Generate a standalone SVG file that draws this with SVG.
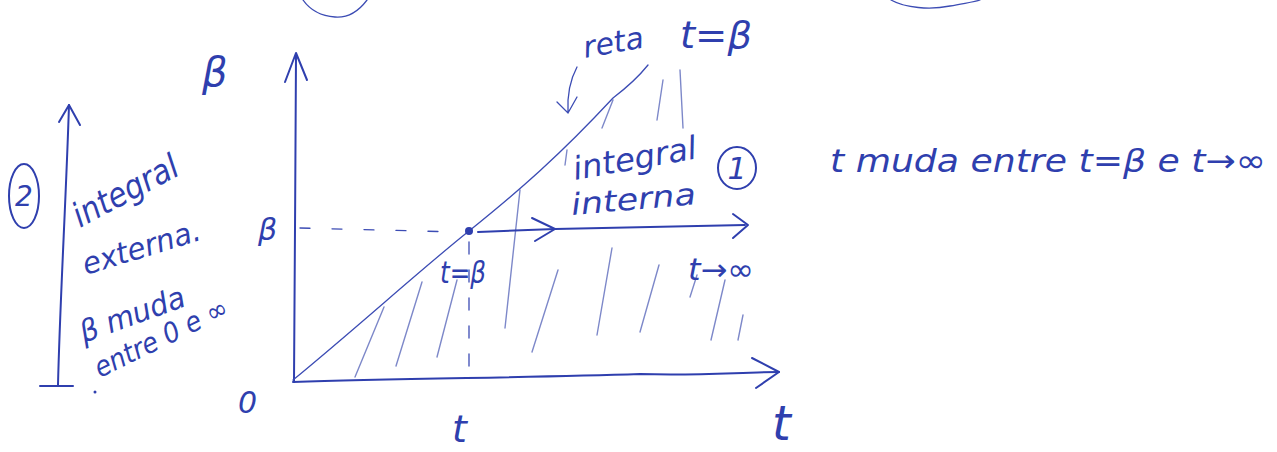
<svg xmlns="http://www.w3.org/2000/svg" width="1277" height="452" viewBox="0 0 1277 452">
<style>
.ink{fill:none;stroke:#2f3fae;stroke-width:2;stroke-linecap:round;stroke-linejoin:round}
.thin{fill:none;stroke:#3c4cb4;stroke-width:1.3;stroke-linecap:round}
.hatch{fill:none;stroke:#7d88c9;stroke-width:1.4;stroke-linecap:round}
.t{fill:#2f3fae;font-family:"DejaVu Sans",sans-serif;font-style:italic}
</style>
<rect width="1277" height="452" fill="#ffffff"/>
<g id="clouds">
<path class="thin" d="M303,0 C310,10 320,16 335,17 C348,18 358,12 367,0"/>
<path class="thin" d="M891,0 C905,8 930,10 950,6 C965,3 975,2 980,0"/>
</g>
<g id="hatching">
<path class="hatch" d="M355,377 L384,307"/>
<path class="hatch" d="M396,366 L422,282"/>
<path class="hatch" d="M437,357 L457,280"/>
<path class="hatch" d="M505,328 L520,190"/>
<path class="hatch" d="M532,352 L558,270"/>
<path class="hatch" d="M597,335 L612,248"/>
<path class="hatch" d="M640,332 L659,265"/>
<path class="hatch" d="M690,297 L697,275"/>
<path class="hatch" d="M711,340 L725,280"/>
<path class="hatch" d="M738,340 L743,315"/>
<path class="hatch" d="M602,128 L613,100"/>
<path class="hatch" d="M657,120 L663,80"/>
<path class="hatch" d="M683,128 L680,70"/>
<path class="hatch" d="M565,165 L567,150"/>
</g>
<g id="connectors">
<path class="ink" d="M294,382 C294,300 296,150 296,55"/>
<path class="ink" d="M285,82 L296,53 L307,80"/>
<path class="ink" d="M293,382 C400,378 520,378 640,374 C700,376 740,372 779,372"/>
<path class="ink" d="M752,358 L779,372 L756,388"/>
<path class="thin" d="M293,380 C360,325 420,270 469,231 C520,190 560,155 613,98 C630,85 640,75 648,65"/>
<path class="thin" stroke-dasharray="10 22" d="M300,228 L458,232"/>
<path class="thin" stroke-dasharray="12 16" d="M469,242 L469,382"/>
<circle cx="469" cy="231" r="4" fill="#2f3fae"/>
<path class="ink" d="M478,232 L555,229 L745,225"/>
<path class="ink" d="M532,218 L555,229 L535,241"/>
<path class="ink" d="M733,214 L748,225 L733,238"/>
<path class="thin" d="M577,67 C570,80 567,95 568,113 M557,102 L568,113 L577,97"/>
<path class="ink" d="M58,385 C60,300 66,200 69,105"/>
<path class="ink" d="M59,122 L69,105 L80,125"/>
<path class="ink" d="M40,386 L73,386"/>
<circle cx="95" cy="392" r="1.5" fill="#2f3fae"/>
</g>
<g id="axis-labels">
<text class="t" x="202" y="86" font-size="40">β</text>
<text class="t" x="258" y="240" font-size="30">β</text>
<text class="t" x="238" y="413" font-size="30">0</text>
<text class="t" x="452" y="442" font-size="38">t</text>
<text class="t" x="772" y="440" font-size="48">t</text>
</g>
<g id="line-label">
<text class="t" x="585" y="58" font-size="30" transform="rotate(-10 585 58)">reta</text>
<text class="t" x="680" y="48" font-size="38" textLength="72" lengthAdjust="spacingAndGlyphs">t=β</text>
</g>
<g id="inner-integral">
<text class="t" x="575" y="180" font-size="32" transform="rotate(-10 575 180)" textLength="125" lengthAdjust="spacingAndGlyphs">integral</text>
<text class="t" x="572" y="215" font-size="30" transform="rotate(-5 572 215)" textLength="125" lengthAdjust="spacingAndGlyphs">interna</text>
<ellipse class="ink" cx="737" cy="168" rx="19" ry="21"/>
<text class="t" x="737" y="179" font-size="30" text-anchor="middle">1</text>
<text class="t" x="440" y="283" font-size="30" textLength="46" lengthAdjust="spacingAndGlyphs">t=β</text>
<text class="t" x="688" y="280" font-size="30" textLength="66" lengthAdjust="spacingAndGlyphs">t→∞</text>
</g>
<g id="inner-note">
<text class="t" x="830" y="172" font-size="32" textLength="436" lengthAdjust="spacingAndGlyphs">t muda entre t=β e t→∞</text>
</g>
<g id="outer-integral">
<ellipse class="ink" cx="24" cy="196" rx="15" ry="32"/>
<text class="t" x="24" y="206" font-size="28" text-anchor="middle">2</text>
<text class="t" x="80" y="228" font-size="34" transform="rotate(-28 80 228)" textLength="115" lengthAdjust="spacingAndGlyphs">integral</text>
<text class="t" x="86" y="275" font-size="30" transform="rotate(-17 86 275)" textLength="122" lengthAdjust="spacingAndGlyphs">externa.</text>
<text class="t" x="84" y="343" font-size="30" transform="rotate(-20 84 343)" textLength="110" lengthAdjust="spacingAndGlyphs">β muda</text>
<text class="t" x="100" y="378" font-size="28" transform="rotate(-26 100 378)" textLength="145" lengthAdjust="spacingAndGlyphs">entre 0 e ∞</text>
</g>
</svg>
